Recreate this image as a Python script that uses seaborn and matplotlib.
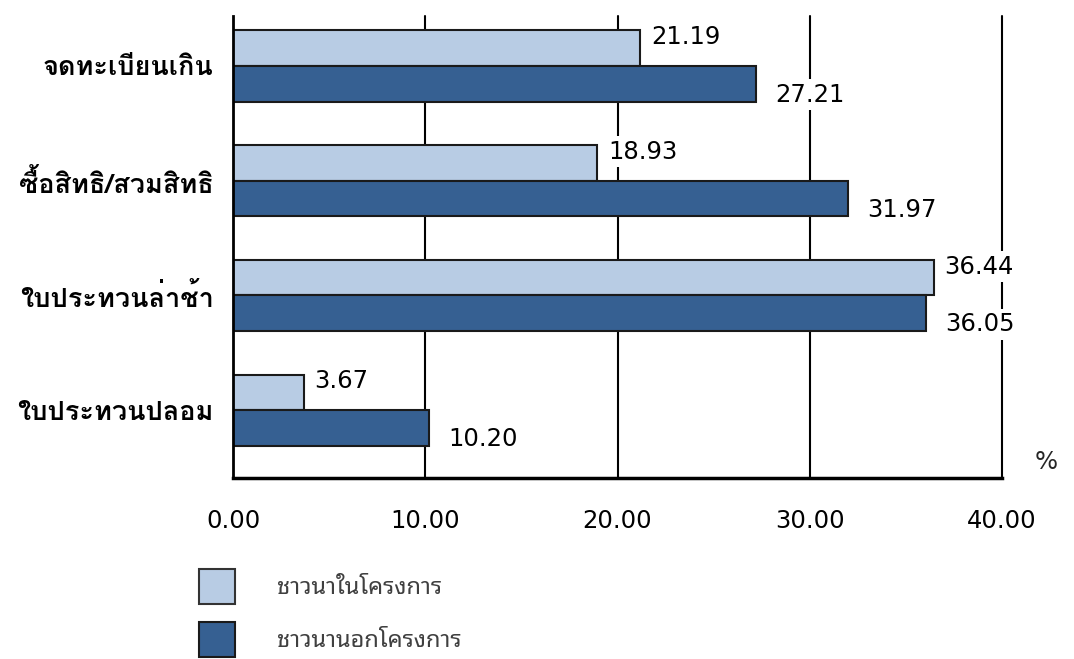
import numpy as np
import pandas as pd
import matplotlib
matplotlib.use("Agg")
import matplotlib.pyplot as plt
from matplotlib.patches import Patch
import seaborn as sns

categories = ["จดทะเบียนเกิน", "ซื้อสิทธิ/สวมสิทธิ", "ใบประทวนล่าช้า", "ใบประทวนปลอม"]
groups = ["ชาวนาในโครงการ", "ชาวนานอกโครงการ"]
in_project = [21.19, 18.93, 36.44, 3.67]
out_project = [27.21, 31.97, 36.05, 10.20]
x_ticks = [0, 10, 20, 30, 40]

LIGHT = "#B8CCE4"
DARK = "#366092"
CAT_FONT = ["Loma", "Noto Sans Thai Looped", "DejaVu Sans"]
LEG_FONT = ["Noto Sans Thai Looped", "Loma", "DejaVu Sans"]
NUM = ["DejaVu Sans"]

sns.set_style("white")
plt.rcParams["font.family"] = NUM + ["Loma"]

df = pd.DataFrame({
    "cat": categories * 2,
    "val": in_project + out_project,
    "group": [groups[0]] * 4 + [groups[1]] * 4,
})

fig = plt.figure(figsize=(10.74, 6.59), dpi=100)
ax = fig.add_axes([233 / 1074, 1 - 478 / 659, 769 / 1074, 462 / 659])

for x in x_ticks[1:]:
    ax.axvline(x, color="black", lw=1.5, zorder=0, clip_on=False)

sns.barplot(data=df, y="cat", x="val", hue="group", orient="h",
            palette=[LIGHT, DARK], saturation=1, edgecolor="#1a1a1a", linewidth=1.5,
            width=0.62, ax=ax, zorder=2, legend=False)

# value labels: light bars shifted up, dark bars shifted down
for cont, dy, dx in zip(ax.containers, [8, -8], [8, 14]):
    for bar, v in zip(cont, cont.datavalues):
        ax.annotate(f"{v:.2f}", (bar.get_width(), bar.get_y() + bar.get_height() / 2),
                    xytext=(dx, dy), textcoords="offset points", ha="left", va="center",
                    fontsize=17.5, family=NUM, color="black", zorder=5,
                    bbox=dict(boxstyle="square,pad=0.15", fc="white", ec="none"))

ax.set_xlim(0, 40)
ax.set_ylim(3.59, -0.435)
ax.set_xticks(x_ticks)
ax.set_xticklabels([f"{t:.2f}" for t in x_ticks], fontsize=17.5, family=NUM)
ax.set_xlabel("")
ax.set_ylabel("")
ax.tick_params(axis="x", direction="out", length=4, width=1.5, pad=18, colors="black")
ax.tick_params(axis="y", length=0, pad=14)
for lab in ax.get_yticklabels():
    lab.set_family(CAT_FONT)
    lab.set_fontsize(19.5)
    lab.set_fontweight("bold")
    lab.set_color("black")

sns.despine(ax=ax, top=True, right=True)
ax.spines["left"].set_linewidth(2)
ax.spines["bottom"].set_linewidth(2.5)
ax.spines["left"].set_color("black")
ax.spines["bottom"].set_color("black")

fig.text(1046 / 1074, 1 - 462 / 659, "%", ha="center", va="center", fontsize=17.5, family=NUM)

handles = [Patch(facecolor=LIGHT, edgecolor="#333333", lw=1.5),
           Patch(facecolor=DARK, edgecolor="#1a1a1a", lw=1.5)]
fig.legend(handles, groups, loc="upper left", bbox_to_anchor=(178 / 1074, 1 - 548 / 659),
           frameon=False, handlelength=1.5, handleheight=1.9,
           handletextpad=1.8, labelspacing=0.75, labelcolor="#404040",
           prop=dict(family=LEG_FONT, size=17))

fig.savefig("out.png", dpi=100)
